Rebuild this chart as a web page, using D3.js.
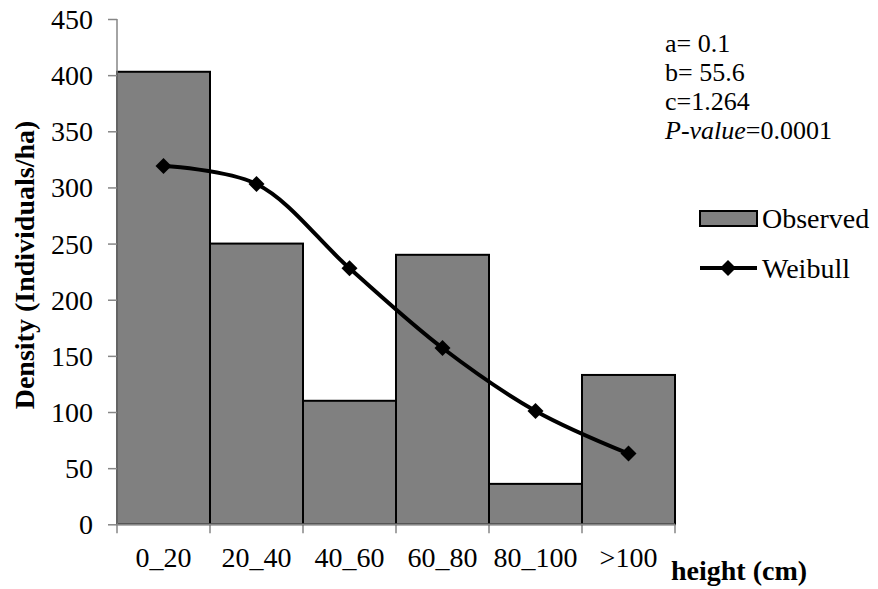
<!DOCTYPE html>
<html>
<head>
<meta charset="utf-8">
<script src="https://cdn.jsdelivr.net/npm/d3@7/dist/d3.min.js"></script>
</head>
<body style="margin:0;background:#fff">
<script>
const categories = ["0_20", "20_40", "40_60", "60_80", "80_100", ">100"];
const observed = [403, 250, 110, 240, 36, 133];
const weibull = [319, 303, 228, 157, 101, 63];
const yTicks = [0, 50, 100, 150, 200, 250, 300, 350, 400, 450];
const annotations = [
  { label: "a= ", value: "0.1", italic: false },
  { label: "b= ", value: "55.6", italic: false },
  { label: "c=", value: "1.264", italic: false },
  { label: "P-value", value: "=0.0001", italic: true }
];

const FONT = "Liberation Serif";
const W = 878, H = 589;
const svg = d3.select("body").append("svg").attr("width", W).attr("height", H)
  .attr("font-family", FONT).style("display", "block");

const x = d3.scaleBand().domain(categories).range([117, 675]).paddingInner(0).paddingOuter(0);
const y = d3.scaleLinear().domain([0, 450]).range([524.3, 19]);

const axisColor = "#868686";

// bars
svg.append("g").selectAll("rect").data(observed).join("rect")
  .attr("x", (d, i) => x(categories[i]))
  .attr("y", d => y(d))
  .attr("width", x.bandwidth())
  .attr("height", d => y(0) - y(d))
  .attr("fill", "#808080")
  .attr("stroke", "#000")
  .attr("stroke-width", 2);

// y axis
const yAxis = svg.append("g").attr("transform", `translate(117,0)`)
  .call(d3.axisLeft(y).tickValues(yTicks).tickSize(9).tickPadding(15).tickFormat(d3.format("d")));
yAxis.attr("font-family", FONT).attr("font-size", 28);
yAxis.select(".domain").attr("stroke", axisColor).attr("stroke-width", 1.5).attr("d", `M0,${y(450)}V${y(0)}`);
yAxis.selectAll(".tick line").attr("stroke", axisColor).attr("stroke-width", 1.5);
yAxis.selectAll(".tick text").attr("font-size", 28).attr("font-family", FONT).attr("fill", "#000").attr("dy", "0.34em");

// x axis
const xb = svg.append("g").attr("transform", `translate(0,${y(0)})`);
xb.append("line").attr("x1", 117).attr("x2", 675).attr("y1", 0).attr("y2", 0)
  .attr("stroke", axisColor).attr("stroke-width", 1.5);
const bounds = categories.map(c => x(c)).concat([x(categories[categories.length - 1]) + x.bandwidth()]);
xb.selectAll("line.tk").data(bounds).join("line").attr("class", "tk")
  .attr("x1", d => d).attr("x2", d => d).attr("y1", 0).attr("y2", 9)
  .attr("stroke", axisColor).attr("stroke-width", 1.5);
xb.selectAll("text").data(categories).join("text")
  .attr("x", d => x(d) + x.bandwidth() / 2)
  .attr("y", 43)
  .attr("text-anchor", "middle")
  .attr("font-family", FONT)
  .attr("font-size", 28)
  .text(d => d);

// weibull line
const lineGen = d3.line()
  .x((d, i) => x(categories[i]) + x.bandwidth() / 2)
  .y(d => y(d))
  .curve(d3.curveCatmullRom.alpha(0.5));
svg.append("path").datum(weibull).attr("d", lineGen)
  .attr("fill", "none").attr("stroke", "#000").attr("stroke-width", 4);

const diamond = (cx, cy, r) => `M${cx},${cy - r}L${cx + r},${cy}L${cx},${cy + r}L${cx - r},${cy}Z`;
svg.append("g").selectAll("path").data(weibull).join("path")
  .attr("d", (d, i) => diamond(x(categories[i]) + x.bandwidth() / 2, y(d), 8))
  .attr("fill", "#000");

// axis titles
svg.append("text")
  .attr("transform", `translate(34,265) rotate(-90)`)
  .attr("text-anchor", "middle")
  .attr("font-family", FONT)
  .attr("font-size", 28)
  .attr("font-weight", "bold")
  .text("Density (Individuals/ha)");
svg.append("text")
  .attr("x", 671).attr("y", 580)
  .attr("font-family", FONT)
  .attr("font-size", 28)
  .attr("font-weight", "bold")
  .text("height (cm)");

// annotations
const ann = svg.append("g");
annotations.forEach((a, i) => {
  const t = ann.append("text").attr("x", 665).attr("y", 52 + i * 29)
    .attr("font-family", FONT).attr("font-size", 26);
  t.append("tspan").attr("font-style", a.italic ? "italic" : "normal").text(a.label);
  t.append("tspan").text(a.value);
});

// legend
const lg = svg.append("g");
lg.append("rect").attr("x", 700).attr("y", 211).attr("width", 57).attr("height", 15)
  .attr("fill", "#808080").attr("stroke", "#000").attr("stroke-width", 2);
lg.append("text").attr("x", 762).attr("y", 228).attr("font-family", FONT).attr("font-size", 28).text("Observed");
lg.append("line").attr("x1", 700).attr("x2", 757).attr("y1", 268).attr("y2", 268)
  .attr("stroke", "#000").attr("stroke-width", 4);
lg.append("path").attr("d", diamond(728, 268, 8)).attr("fill", "#000");
lg.append("text").attr("x", 762).attr("y", 278).attr("font-family", FONT).attr("font-size", 28).text("Weibull");
</script>
</body>
</html>
